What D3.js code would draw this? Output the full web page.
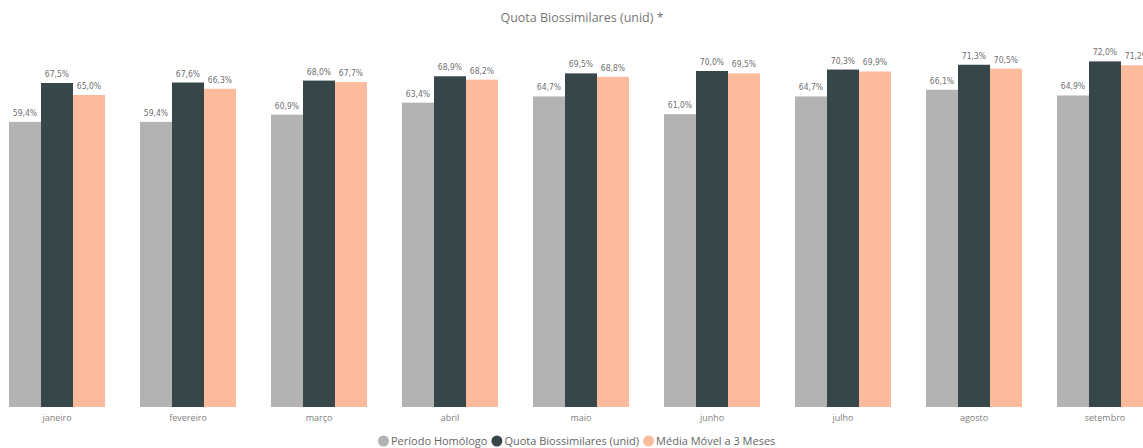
<!DOCTYPE html>
<html>
<head>
<meta charset="utf-8">
<script src="https://cdn.jsdelivr.net/npm/d3@7"></script>
<style>
  body { margin: 0; background: #fff; }
  svg { display: block; }
</style>
</head>
<body>
<svg id="chart" width="1143" height="448"></svg>
<script>
const WIDTH = 1143;
const HEIGHT = 448;

// data (the visual is cut at the right edge)
const months = ["janeiro", "fevereiro", "março", "abril", "maio", "junho", "julho", "agosto", "setembro"];
const periodoHomologo = [59.4, 59.4, 60.9, 63.4, 64.7, 61.0, 64.7, 66.1, 64.9];
const quotaBiossimilares = [67.5, 67.6, 68.0, 68.9, 69.5, 70.0, 70.3, 71.3, 72.0];
const mediaMovel = [65.0, 66.3, 67.7, 68.2, 68.8, 69.5, 69.9, 70.5, 71.2];

const seriesNames = ["Período Homólogo", "Quota Biossimilares (unid)", "Média Móvel a 3 Meses"];
const seriesColors = ["#B3B3B3", "#374649", "#FDBB9E"];
const seriesValues = [periodoHomologo, quotaBiossimilares, mediaMovel];

const BASELINE = 407;
const STEP = 131;
const PAD = 0.267;

const svg = d3.select("#chart");

// the step of 131px keeps going past the right edge, like the cropped original
const x = d3.scaleBand()
  .domain(months)
  .range([-8.5, -8.5 + months.length * STEP])
  .paddingInner(PAD)
  .paddingOuter(PAD / 2);

const xs = d3.scaleBand()
  .domain(d3.range(seriesNames.length))
  .range([0, x.bandwidth()]);

const y = d3.scaleLinear()
  .domain([0, 80])
  .range([BASELINE, BASELINE - 4.8 * 80]);

const fmt = v => v.toFixed(1).replace(".", ",") + "%";

// title
svg.append("text")
  .attr("x", 582)
  .attr("y", 22)
  .attr("text-anchor", "middle")
  .style("font-family", "'Open Sans', 'Noto Sans', sans-serif")
  .style("font-size", "12.5px")
  .style("fill", "#777")
  .text("Quota Biossimilares (unid) *");

const groups = svg.append("g")
  .selectAll("g")
  .data(months)
  .join("g")
  .attr("transform", d => `translate(${x(d)},0)`);

groups.selectAll("rect")
  .data((d, i) => seriesValues.map((s, k) => ({ k, v: s[i] })))
  .join("rect")
  .attr("x", d => xs(d.k))
  .attr("y", d => y(d.v))
  .attr("width", xs.bandwidth())
  .attr("height", d => y(0) - y(d.v))
  .attr("fill", d => seriesColors[d.k]);

groups.selectAll("text.lbl")
  .data((d, i) => seriesValues.map((s, k) => ({ k, v: s[i] })))
  .join("text")
  .attr("class", "lbl")
  .attr("x", d => xs(d.k) + xs.bandwidth() / 2)
  .attr("y", d => y(d.v) - 6)
  .attr("text-anchor", "middle")
  .style("font-family", "'DejaVu Sans Condensed', 'DejaVu Sans', sans-serif")
  .style("font-size", "8.5px")
  .style("fill", "#6f6f6f")
  .text(d => fmt(d.v));

// x axis labels
const xAxis = d3.axisBottom(x).tickSize(0).tickPadding(8);
const gx = svg.append("g")
  .attr("transform", `translate(0,${BASELINE})`)
  .call(xAxis);
gx.select(".domain").remove();
gx.selectAll("text")
  .style("font-family", "'Open Sans', 'Noto Sans', sans-serif")
  .style("font-size", "9px")
  .style("fill", "#808080");

// legend
const legend = svg.append("g").attr("transform", "translate(378,441)");
let lx = 0;
seriesNames.forEach((name, k) => {
  const item = legend.append("g").attr("transform", `translate(${lx},0)`);
  item.append("circle")
    .attr("cx", 5.5)
    .attr("cy", 0)
    .attr("r", 5.5)
    .attr("fill", seriesColors[k]);
  const t = item.append("text")
    .attr("x", 13)
    .attr("y", 4)
    .style("font-family", "'Open Sans', 'Noto Sans', sans-serif")
    .style("font-size", "11px")
    .style("fill", "#666")
    .text(name);
  lx += 13 + t.node().getComputedTextLength() + 4;
});
</script>
</body>
</html>
